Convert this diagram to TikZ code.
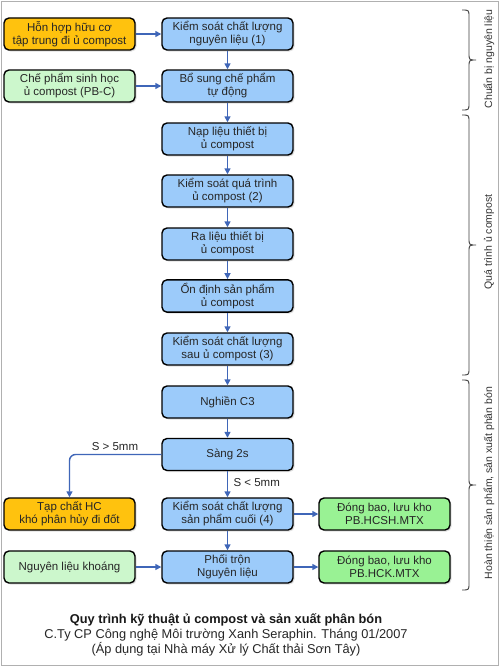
\documentclass[tikz,border=0pt]{standalone}
\usepackage{fontspec}
\setmainfont{Liberation Sans}
\usetikzlibrary{arrows.meta,shadows}
\definecolor{boxblue}{HTML}{9CCBFA}
\definecolor{boxorange}{HTML}{FFC20E}
\definecolor{boxlgreen}{HTML}{CCF7CC}
\definecolor{boxgreen}{HTML}{99F294}
\definecolor{arrowblue}{HTML}{3F66B8}
\definecolor{framegray}{HTML}{B0B0B0}
\tikzset{
  stepbox/.style={draw=black, line width=1.4pt, rounded corners=5pt,
    minimum width=131pt, minimum height=32pt, align=center,
    font=\fontsize{11.5}{13}\selectfont, text=black!85,
    drop shadow={shadow xshift=1.5pt, shadow yshift=-1.5pt, opacity=0.25}},
  bluebox/.style={stepbox, fill=boxblue},
  orangebox/.style={stepbox, fill=boxorange},
  lgreenbox/.style={stepbox, fill=boxlgreen},
  greenbox/.style={stepbox, fill=boxgreen},
  flow/.style={draw=arrowblue, line width=1.4pt, -{Triangle[length=6pt,width=6pt]}},
  lbl/.style={font=\fontsize{11.5}{13}\selectfont, text=black!85},
  bracestyle/.style={draw=black!75, line width=0.9pt},
  sidelabel/.style={font=\fontsize{10.5}{12}\selectfont, text=black!80, rotate=90}
}
% right-pointing brace between y=#1 and y=#2 (top, bottom), tip at mid
\newcommand{\sidebrace}[2]{%
  \pgfmathsetmacro{\bmid}{(#1+#2)/2}%
  \draw[bracestyle] (462,#1) .. controls (469,#1) .. (469,#1+7)
    -- (469,\bmid-7) .. controls (469,\bmid) .. (476,\bmid)
    .. controls (469,\bmid) .. (469,\bmid+7)
    -- (469,#2-7) .. controls (469,#2) .. (462,#2);}
\begin{document}
\begin{tikzpicture}[x=1pt,y=-1pt]
\useasboundingbox (0,0) rectangle (500,667);
\fill[white] (0,0) rectangle (500,667);
\draw[framegray, line width=1pt] (1,1) rectangle (498.5,665.5);

% center column
\node[bluebox] (c1) at (227.5,34) {Kiểm soát chất lượng\\nguyên liệu (1)};
\node[bluebox] (c2) at (227.5,86) {Bổ sung chế phẩm\\tự động};
\node[bluebox] (c3) at (227.5,139) {Nạp liệu thiết bị\\ủ compost};
\node[bluebox] (c4) at (227.5,191) {Kiểm soát quá trình\\ủ compost (2)};
\node[bluebox] (c5) at (227.5,244) {Ra liệu thiết bị\\ủ compost};
\node[bluebox] (c6) at (227.5,296) {Ổn định sản phẩm\\ủ compost};
\node[bluebox] (c7) at (227.5,349) {Kiểm soát chất lượng\\sau ủ compost (3)};
\node[bluebox] (c8) at (227.5,402) {Nghiền C3};
\node[bluebox] (c9) at (227.5,454.5) {Sàng 2s};
\node[bluebox] (c10) at (227.5,514) {Kiểm soát chất lượng\\sản phẩm cuối (4)};
\node[bluebox] (c11) at (227.5,567) {Phối trộn\\Nguyên liệu};

% left column
\node[orangebox] (l1) at (69.5,34) {Hỗn hợp hữu cơ\\tập trung đi ủ compost};
\node[lgreenbox] (l2) at (69.5,86) {Chế phẩm sinh học\\ủ compost (PB-C)};
\node[orangebox] (l3) at (69.5,514) {Tạp chất HC\\khó phân hủy đi đốt};
\node[lgreenbox] (l4) at (69.5,567) {Nguyên liệu khoáng};

% right column
\node[greenbox] (r1) at (384.5,514) {Đóng bao, lưu kho\\PB.HCSH.MTX};
\node[greenbox] (r2) at (384.5,567) {Đóng bao, lưu kho\\PB.HCK.MTX};

% connectors
\draw[flow] (l1) -- (c1);
\draw[flow] (l2) -- (c2);
\draw[flow] (c1) -- (c2);
\draw[flow] (c2) -- (c3);
\draw[flow] (c3) -- (c4);
\draw[flow] (c4) -- (c5);
\draw[flow] (c5) -- (c6);
\draw[flow] (c6) -- (c7);
\draw[flow] (c7) -- (c8);
\draw[flow] (c8) -- (c9);
\draw[flow] (c9) -- node[lbl, right, pos=0.45, xshift=2pt] (lsmall) {S < 5mm} (c10);
\draw[flow, rounded corners=6pt] (c9.west) -| (l3.north);
\node[lbl] (lbig) at (115,447) {S > 5mm};
\draw[flow] (c10) -- (c11);
\draw[flow] (c10) -- (r1);
\draw[flow] (c11) -- (r2);
\draw[flow] (l4) -- (c11);

% braces
\sidebrace{10}{110}
\sidebrace{115}{375}
\sidebrace{380}{590}
\node[sidelabel] (s1) at (489,59) {Chuẩn bị nguyên liệu};
\node[sidelabel] (s2) at (489,242) {Quá trình ủ compost};
\node[sidelabel] (s3) at (489,483) {Hoàn thiện sản phẩm, sản xuất phân bón};

% caption
\node[font=\bfseries\fontsize{12.8}{14}\selectfont, text=black!90] (t1) at (226,620) {Quy trình kỹ thuật ủ compost và sản xuất phân bón};
\node[font=\fontsize{12.8}{14}\selectfont, text=black!85] (t2) at (226,635) {C.Ty CP Công nghệ Môi trường Xanh Seraphin. Tháng 01/2007};
\node[font=\fontsize{12.8}{14}\selectfont, text=black!85] (t3) at (226,649.5) {(Áp dụng tại Nhà máy Xử lý Chất thải Sơn Tây)};
\end{tikzpicture}
\end{document}
